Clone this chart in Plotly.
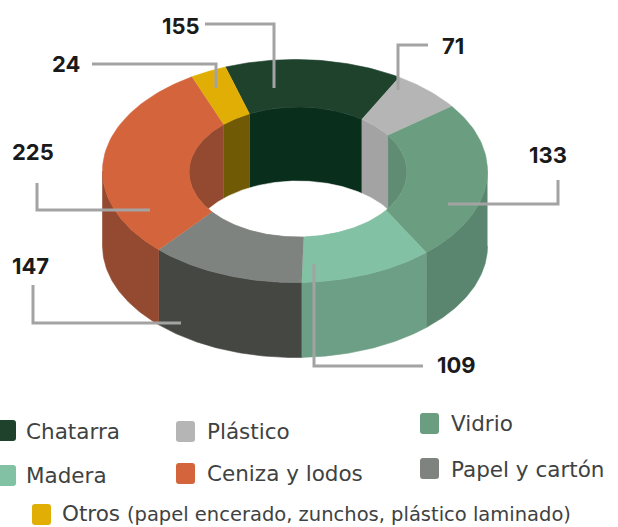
import numpy as np
import plotly.graph_objects as go

# ---- data ----
categories = ["Chatarra", "Plástico", "Vidrio", "Madera", "Papel y cartón", "Ceniza y lodos", "Otros"]
values = [155, 71, 133, 109, 147, 225, 24]
# the drawn slices do not follow the labelled values: spans (degrees) as read off the ring
outer_spans = [53.9, 21.8, 82.5, 41.0, 47.0, 102.6, 11.2]
inner_spans = [62.3, 19.9, 70.3, 51.0, 55.0, 85.0, 16.5]

# ---- styles ----
top_colors = ["#1f422d", "#b5b5b5", "#6b9e80", "#82c1a3", "#7f8380", "#d4643c", "#e0ae05"]
outer_wall_colors = ["#16331f", "#9c9c9c", "#5a866f", "#6d9f86", "#444742", "#934a30", "#715a05"]
inner_wall_colors = ["#0a2e1c", "#a3a3a3", "#5f8c73", "#6d9f86", "#444742", "#934a30", "#715a05"]
LINE = "#a3a3a3"
TEXT = "#404241"
NUM_FONT = "Inter"
LEG_FONT = "DejaVu Sans"

# ---- ring geometry (pixel space of the hidden axes) ----
OUT = dict(cx=295.0, cy=171.0, rx=192.5, ry=111.5)
INN = dict(cx=298.0, cy=172.0, rx=109.0, ry=65.0)
DEPTH = 75.0
INNER_DEPTH = 74.0
OUT_START, INN_START = -21.2, -26.5


def arc(e, a1, a2, n=60):
    t = np.radians(np.linspace(a1, a2, n))
    return e["cx"] + e["rx"] * np.sin(t), e["cy"] - e["ry"] * np.cos(t)


def clip(a1, a2, lo, hi):
    for s in (0, -360, 360):
        b1, b2 = max(a1 + s, lo), min(a2 + s, hi)
        if b2 > b1:
            return b1, b2
    return None


fig = go.Figure()


def poly(x, y, color, name):
    fig.add_trace(go.Scatter(x=list(x), y=list(y), mode="lines", fill="toself", fillcolor=color,
                             line=dict(width=0.6, color=color), name=name, hoverinfo="name", showlegend=False))


out_edges = OUT_START + np.concatenate([[0], np.cumsum(outer_spans)])
inn_edges = INN_START + np.concatenate([[0], np.cumsum(inner_spans)])

# outer wall (front half)
for i, c in enumerate(categories):
    r = clip(out_edges[i], out_edges[i + 1], 90, 270)
    if r:
        x, y = arc(OUT, *r)
        poly(np.r_[x, x[::-1]], np.r_[y, y[::-1] + DEPTH], outer_wall_colors[i], c)

# inner wall seen through the hole (back half)
for i, c in enumerate(categories):
    r = clip(inn_edges[i], inn_edges[i + 1], -90, 90)
    if r:
        x, y = arc(INN, *r)
        poly(np.r_[x, x[::-1]], np.r_[y, 2 * INN["cy"] - y[::-1]], inner_wall_colors[i], c)

# white opening: inner ellipse intersected with itself shifted by the depth
xs = np.linspace(INN["cx"] - INN["rx"], INN["cx"] + INN["rx"], 300)
h = INN["ry"] * np.sqrt(np.clip(1 - ((xs - INN["cx"]) / INN["rx"]) ** 2, 0, 1))
upper = INN["cy"] - h + INNER_DEPTH
lower = INN["cy"] + h
keep = upper < lower
poly(np.r_[xs[keep], xs[keep][::-1]], np.r_[upper[keep], lower[keep][::-1]], "#ffffff", "hueco")

# top surface
for i, c in enumerate(categories):
    xo, yo = arc(OUT, out_edges[i], out_edges[i + 1])
    xi, yi = arc(INN, inn_edges[i], inn_edges[i + 1])
    poly(np.r_[xo, xi[::-1]], np.r_[yo, yi[::-1]], top_colors[i], f"{c}: {values[i]}")

# leader lines and value labels, per category
leaders = {
    "Chatarra": ([205, 274, 274], [24, 24, 88], 181, 26),
    "Plástico": ([398, 398, 428], [90, 45, 45], 453, 46),
    "Vidrio": ([448, 558, 558], [204, 204, 180], 548, 155),
    "Madera": ([314, 314, 423], [264, 366, 366], 456, 365),
    "Papel y cartón": ([33, 33, 181], [285, 323, 323], 30, 266),
    "Ceniza y lodos": ([37, 37, 150], [183, 210, 210], 33, 152),
    "Otros": ([92, 216, 216], [64, 64, 88], 66, 64),
}
for i, c in enumerate(categories):
    lx, ly, tx, ty = leaders[c]
    fig.add_trace(go.Scatter(x=lx, y=ly, mode="lines", line=dict(color=LINE, width=3),
                             hoverinfo="skip", showlegend=False))
    fig.add_annotation(x=tx, y=ty, text=f"<b>{values[i]}</b>", showarrow=False,
                       font=dict(family=NUM_FONT, size=22, color="#1a1a1a"))

# hand-placed legend, as in the reference
legend_pos = {
    "Chatarra": (-3, 420, 24, 431),
    "Plástico": (176, 421, 205, 431),
    "Vidrio": (420, 413, 449, 423),
    "Madera": (-3, 465, 24, 475),
    "Ceniza y lodos": (176, 463, 205, 473),
    "Papel y cartón": (420, 458, 449, 469),
    "Otros": (32, 504, 60, 513),
}
for i, c in enumerate(categories):
    sx, sy, tx, ty = legend_pos[c]
    w, hh, r = 19, 21, 3
    path = (f"M{sx+r},{sy} L{sx+w-r},{sy} Q{sx+w},{sy} {sx+w},{sy+r} L{sx+w},{sy+hh-r} Q{sx+w},{sy+hh} {sx+w-r},{sy+hh} "
            f"L{sx+r},{sy+hh} Q{sx},{sy+hh} {sx},{sy+hh-r} L{sx},{sy+r} Q{sx},{sy} {sx+r},{sy} Z")
    fig.add_shape(type="path", path=path, fillcolor=top_colors[i], line=dict(width=0), layer="above")
    label = c
    if c == "Otros":
        label = "Otros <span style='font-size:19.5px'>(papel encerado, zunchos, plástico laminado)</span>"
    fig.add_annotation(x=tx, y=ty, text=label, showarrow=False, xanchor="left",
                       font=dict(family=LEG_FONT, size=21.5, color=TEXT))

fig.update_layout(
    width=618, height=527, autosize=False,
    margin=dict(l=0, r=0, t=0, b=0),
    paper_bgcolor="#ffffff", plot_bgcolor="#ffffff",
    showlegend=False,
    xaxis=dict(range=[0, 618], visible=False, fixedrange=True),
    yaxis=dict(range=[527, 0], visible=False, fixedrange=True),
)
fig.write_html("out.html", config=dict(displayModeBar=False),
               post_script="document.body.style.margin='0';")
